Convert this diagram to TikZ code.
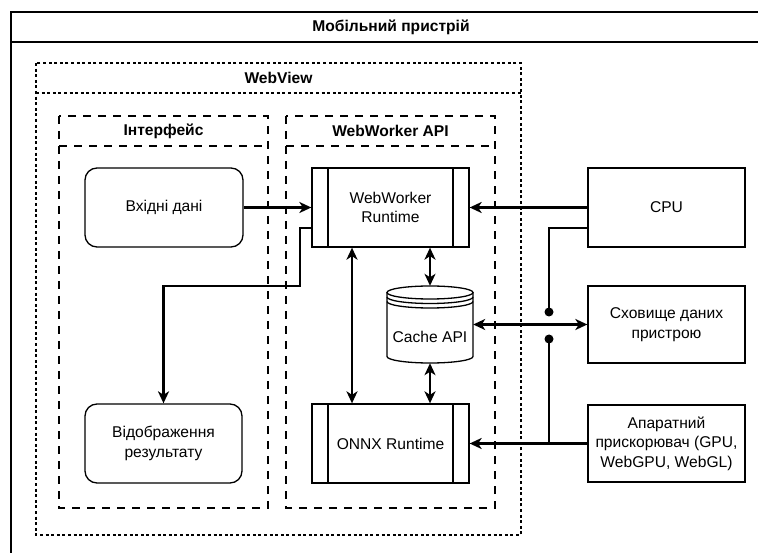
\documentclass[tikz,border=0pt]{standalone}
\usepackage{fontspec}
\setmainfont{Liberation Sans}
\usetikzlibrary{arrows.meta,calc}
\begin{document}
\begin{tikzpicture}[x=1pt,y=-1pt,
  every node/.style={font=\fontsize{15.6}{19.5}\selectfont, align=center, inner sep=0pt},
  title/.style={font=\fontsize{15.6}{19.5}\selectfont\bfseries},
  frame/.style={draw, line width=1.3pt},
  dotlane/.style={draw, line width=1.2pt, dash pattern=on 3pt off 2.6pt},
  dashlane/.style={draw, line width=1.2pt, dash pattern=on 8pt off 7pt},
  box/.style={draw, line width=1.3pt, minimum width=157pt, minimum height=79pt},
  rbox/.style={box, rounded corners=12pt},
  proc/.style={box, path picture={
      \draw[line width=1.3pt]
        ([xshift=16pt]path picture bounding box.north west) -- ([xshift=16pt]path picture bounding box.south west)
        ([xshift=-16pt]path picture bounding box.north east) -- ([xshift=-16pt]path picture bounding box.south east);}},
  link/.style={line width=2.2pt},
  arr/.style={link, -{Stealth[length=12pt,width=11pt,inset=3.5pt]}},
  dbl/.style={link, {Stealth[length=12pt,width=11pt,inset=3.5pt]}-{Stealth[length=12pt,width=11pt,inset=3.5pt]}},
  dot/.style={fill, circle, minimum size=9pt, inner sep=0pt}
]
\useasboundingbox (0,0) rectangle (758,553);
\fill[white] (0,0) rectangle (758,553);
\clip (0,0) rectangle (758,553);

% device container (runs past the page edges)
\draw[frame] (11,600) -- (11,12) -- (800,12);
\draw[frame] (11,42) -- (800,42);
\node[title] (tdev) at (391,27) {Мобільний пристрій};

% WebView lane
\draw[dotlane] (36,63) rectangle (521,535);
\draw[dotlane] (36,93) -- (521,93);
\node[title] (twv) at (278.5,78) {WebView};

% UI lane
\draw[dashlane] (59,116) rectangle (268,508);
\draw[dashlane] (59,146) -- (268,146);
\node[title] (tui) at (163.5,131) {Інтерфейс};

% WebWorker API lane
\draw[dashlane] (286,116) rectangle (495,508);
\draw[dashlane] (286,146) -- (495,146);
\node[title] (tww) at (390.5,131) {WebWorker API};

% blocks
\node[rbox, minimum width=158pt] (inp) at (164,207.5) {Вхідні дані};
\node[rbox] (disp) at (163.5,443.5) {Відображення\\результату};
\node[proc] (wwr) at (390.5,207.5) {WebWorker\\Runtime};
\node[proc] (onnx) at (390.5,443.5) {ONNX Runtime};
\node[box] (cpu) at (666.5,207.5) {CPU};
\node[box, minimum height=77pt] (stor) at (666.5,324.5) {Сховище даних\\пристрою};
\node[box, minimum height=77pt] (acc) at (666.5,443.5) {Апаратний\\прискорювач (GPU,\\WebGPU, WebGL)};

% Cache API datastore
\node[minimum width=86pt, minimum height=77pt] (cache) at (430,324.5) {};
\draw[line width=1.3pt, fill=white]
  (387,292.5) -- (387,356.5) arc[start angle=180, end angle=360, x radius=43pt, y radius=6.5pt]
  -- (473,292.5);
\draw[line width=1.3pt] (430,292.5) ellipse[x radius=43pt, y radius=6.5pt];
\draw[line width=1.3pt] (387,297) arc[start angle=180, end angle=360, x radius=43pt, y radius=6.5pt];
\draw[line width=1.3pt] (387,301.5) arc[start angle=180, end angle=360, x radius=43pt, y radius=6.5pt];
\node (cachetxt) at (430,337) {Cache API};

% connectors
\draw[arr] (inp.east) -- (wwr.west);
\draw[arr] ([yshift=-20.5pt]wwr.west) -- ++(-11,0) -- ++(0,58) -| (disp.north);
\draw[arr] (cpu.west) -- (wwr.east);
\draw[dbl] ([xshift=-38.5pt]wwr.south) -- ([xshift=-38.5pt]onnx.north);
\draw[dbl] (wwr.south -| cache.north) -- (cache.north);
\draw[dbl] (cache.south) -- (onnx.north -| cache.south);
\draw[dbl] (cache.east) -- (stor.west);
\draw[arr] (acc.west) -- (onnx.east);

\coordinate (d1) at (549,312);
\coordinate (d2) at (549,339);
\draw[link] ([yshift=-20.5pt]cpu.west) -| (d1);
\draw[link] (acc.west -| d2) -- (d2);
\node[dot] (dot1) at (d1) {};
\node[dot] (dot2) at (d2) {};
\end{tikzpicture}
\end{document}
